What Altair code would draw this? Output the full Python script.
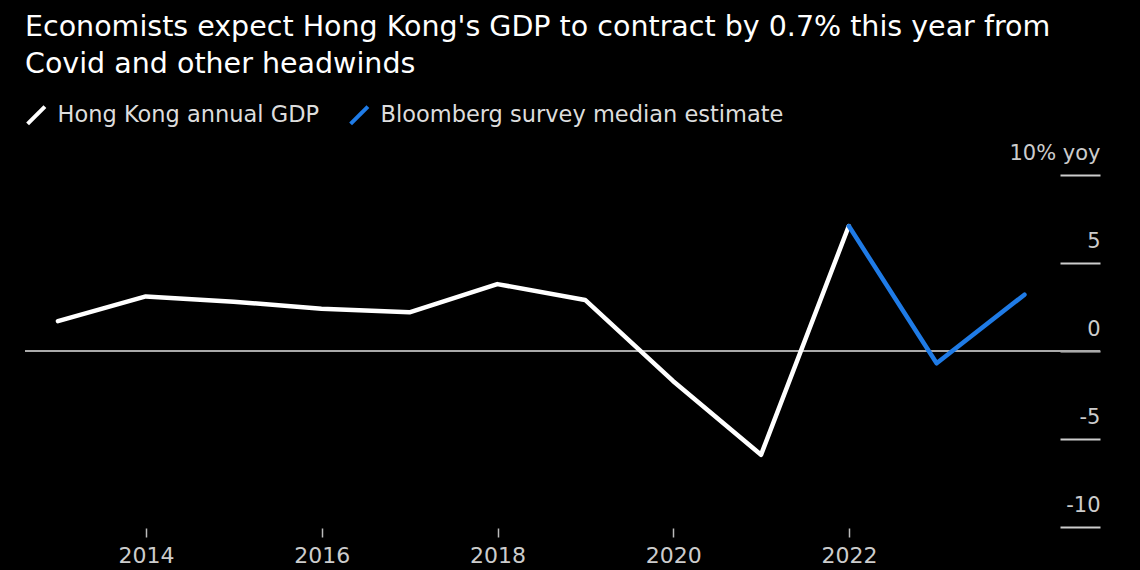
import altair as alt
import pandas as pd

# Data (annual values plotted at year end)
years_actual = [2012, 2013, 2014, 2015, 2016, 2017, 2018, 2019, 2020, 2021]
gdp_actual = [1.7, 3.1, 2.8, 2.4, 2.2, 3.8, 2.9, -1.7, -5.9, 7.1]
years_est = [2021, 2022, 2023]
gdp_est = [7.1, -0.7, 3.2]

series_names = ["Hong Kong annual GDP", "Bloomberg survey median estimate"]
series_colors = ["#ffffff", "#1f7be6"]

y_ticks = [-10, -5, 0, 5, 10]
x_tick_years = [2014, 2016, 2018, 2020, 2022]

title_lines = [
    "Economists expect Hong Kong's GDP to contract by 0.7% this year from",
    "Covid and other headwinds",
]

FONT = "DejaVu Sans"

rows = []
for y, v in zip(years_actual, gdp_actual):
    rows.append({"date": f"{y}-12-31", "value": v, "series": series_names[0]})
for y, v in zip(years_est, gdp_est):
    rows.append({"date": f"{y}-12-31", "value": v, "series": series_names[1]})
df = pd.DataFrame(rows)

zero_df = pd.DataFrame({"value": [0]})

x_scale = alt.Scale(type="utc", domain=[alt.DateTime(year=2012, month=8, date=16, utc=True),
                                        alt.DateTime(year=2024, month=11, date=9, utc=True)])
y_scale = alt.Scale(domain=[-10, 10], nice=False, zero=False)

x_axis = alt.Axis(
    values=[alt.DateTime(year=y, month=1, date=1, utc=True) for y in x_tick_years],
    format="%Y",
    domain=False,
    grid=False,
    ticks=True,
    tickSize=9,
    tickColor="#bbbbbb",
    tickWidth=1.5,
    offset=1,
    labelFontSize=22,
    labelFont=FONT,
    labelColor="#cccccc",
    labelPadding=8,
    title=None,
)

y_axis = alt.Axis(
    orient="right",
    values=y_ticks,
    offset=-40,
    domain=False,
    grid=False,
    ticks=True,
    tickSize=40,
    tickColor="#cccccc",
    tickWidth=2,
    labelAlign="right",
    labelBaseline="alphabetic",
    labelPadding=0,
    labelOffset=-16,
    labelFontSize=21,
    labelFont=FONT,
    labelColor="#cccccc",
    labelExpr="datum.value == 10 ? '10% yoy' : toString(datum.value)",
    title=None,
)

zero_rule = alt.Chart(zero_df).mark_rule(color="#aaaaaa", strokeWidth=2).encode(
    y=alt.Y("value:Q", scale=y_scale, axis=y_axis)
)

lines = alt.Chart(df).mark_line(strokeWidth=4.5, strokeJoin="round", strokeCap="round").encode(
    x=alt.X("date:T", scale=x_scale, axis=x_axis),
    y=alt.Y("value:Q", scale=y_scale),
    color=alt.Color(
        "series:N",
        scale=alt.Scale(domain=series_names, range=series_colors),
        legend=alt.Legend(
            orient="none",
            legendX=0,
            legendY=-71,
            direction="horizontal",
            columns=2,
            title=None,
            symbolType="M-1,1L1,-1",
            symbolSize=300,
            symbolStrokeWidth=4,
            labelFontSize=22.5,
            labelFont=FONT,
            labelColor="#dddddd",
            labelLimit=0,
            labelOffset=10,
            columnPadding=22,
        ),
    ),
    detail="series:N",
)

chart = alt.layer(zero_rule, lines).properties(
    width=1075,
    height=352,
    padding={"left": 25, "top": 175, "right": 40, "bottom": 43},
    autosize=alt.AutoSizeParams(type="none"),
    background="#000000",
    title=alt.Title(
        text=title_lines,
        anchor="start",
        frame="group",
        fontSize=28.5,
        font=FONT,
        fontWeight="normal",
        color="#ffffff",
        lineHeight=37,
        offset=26,
    ),
).configure_view(stroke=None)

chart.save("out.html", embed_options={"renderer": "svg", "actions": False})
